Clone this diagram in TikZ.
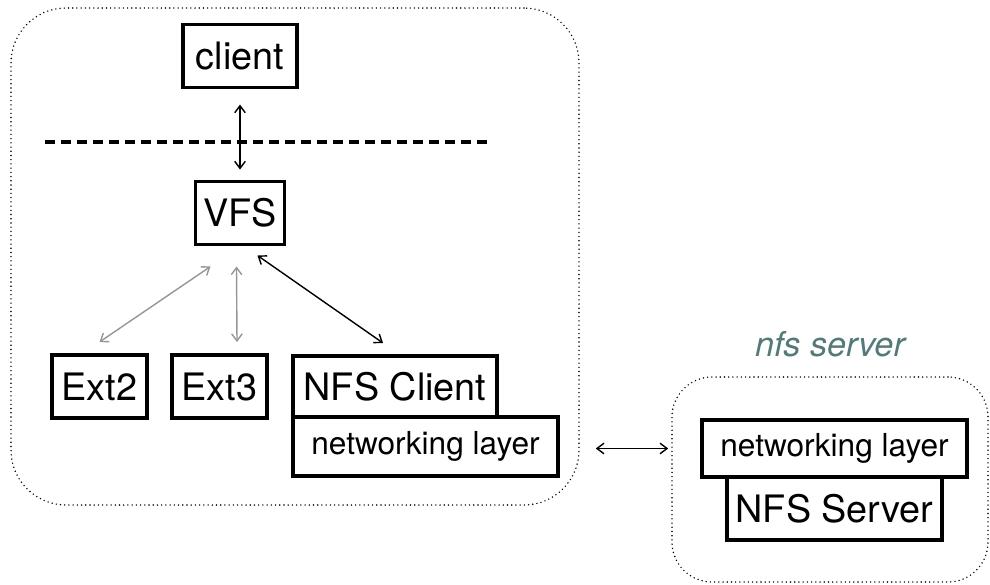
\documentclass[tikz,border=0pt]{standalone}
\usepackage{fontspec}
\setmainfont{TeX Gyre Heros}
\usetikzlibrary{arrows.meta, positioning, calc}
\definecolor{linkgray}{RGB}{150,150,150}
\definecolor{labelteal}{RGB}{84,122,120}
\tikzset{
  fsbox/.style={draw=black, fill=white, line width=1.8pt, inner sep=0pt, outer sep=0pt, minimum height=1.26cm, font=\fontsize{21.5}{24}\selectfont},
  layerbox/.style={draw=black, fill=white, line width=1.8pt, inner sep=0pt, outer sep=0pt, minimum height=1.18cm, font=\fontsize{18}{21}\selectfont},
  hostbox/.style={draw=black, line width=0.9pt, dash pattern=on 0pt off 2.4pt, line cap=round, rounded corners=1.1cm},
  hostlabel/.style={font=\fontsize{19.5}{22}\selectfont\itshape, text=labelteal, inner sep=0pt},
  boundary/.style={line width=2.2pt, dash pattern=on 0.2cm off 0.12cm},
  arrow/.style={{Straight Barb[length=4pt, width=6pt]}-{Straight Barb[length=4pt, width=6pt]}, line width=0.8pt},
  grayarrow/.style={arrow, color=linkgray},
}

\begin{document}
\begin{tikzpicture}
  \useasboundingbox (0,0) rectangle (19.8,-11.68);

  % --- Hosts ---
  \node[hostbox, minimum width=11.36cm, minimum height=9.94cm] (clienthost) at (5.9,-5.13) {};
  \node[hostbox, rounded corners=0.8cm, minimum width=6.32cm, minimum height=4.1cm] (serverhost) at (16.6,-9.59) {};
  \node[hostlabel, above=0.38cm of serverhost] (serverlabel) {nfs server};

  % --- Client side ---
  \node[fsbox, minimum width=2.28cm] (client) at (4.8,-1.12) {client};
  \node[fsbox, minimum width=1.78cm, below=1.88cm of client] (vfs) {VFS};
  \draw[boundary] (0.9,-2.84) -- (9.8,-2.84);

  \node[fsbox, minimum width=1.9cm] (ext2) at (1.99,-7.73) {Ext2};
  \node[fsbox, minimum width=1.9cm, right=0.5cm of ext2] (ext3) {Ext3};
  \node[fsbox, minimum width=4.08cm, minimum height=1.22cm, right=0.52cm of ext3] (nfsclient) {NFS Client};
  \node[layerbox, minimum width=5.3cm, anchor=north west] (clientnet) at (nfsclient.south west) {networking layer};

  % --- Server side ---
  \node[layerbox, minimum width=5.3cm, minimum height=1.14cm] (servernet) at (16.69,-8.97) {networking layer};
  \node[fsbox, minimum width=4.3cm, below=0pt of servernet] (nfsserver) {NFS Server};

  % --- Arrows ---
  \draw[arrow, shorten <=0.34cm, shorten >=0.24cm] (client) -- (vfs);
  \draw[grayarrow] ([xshift=-0.59cm,yshift=-0.44cm]vfs.south) -- ([yshift=0.26cm]ext2.north);
  \draw[grayarrow] ([xshift=-0.07cm,yshift=-0.44cm]vfs.south) -- ([xshift=0.35cm,yshift=0.26cm]ext3.north);
  \draw[arrow] ([xshift=-0.54cm,yshift=-0.22cm]vfs.south east) -- ([xshift=-0.24cm,yshift=0.26cm]nfsclient.north);
  \draw[arrow] ($(clienthost.east |- servernet.west)+(0.32,0)$) -- ($(serverhost.west |- servernet.west)+(-0.06,0)$);

\end{tikzpicture}
\end{document}
